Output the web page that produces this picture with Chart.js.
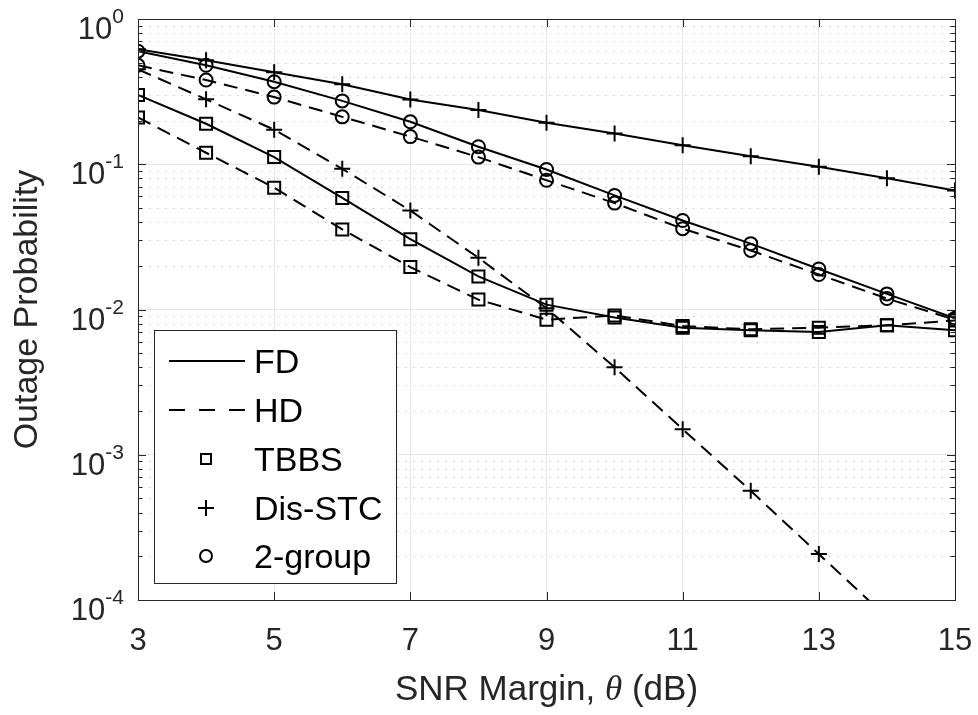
<!DOCTYPE html>
<html>
<head>
<meta charset="utf-8">
<title>Outage Probability vs SNR Margin</title>
<script src="https://cdn.jsdelivr.net/npm/chart.js@4.4.1/dist/chart.umd.min.js"></script>
<style>
  html, body { margin: 0; padding: 0; background: #fff; }
  #wrap { width: 978px; height: 715px; }
</style>
</head>
<body>
<div id="wrap"><canvas id="chart" width="978" height="715"></canvas></div>
<script>
// ---------------------------------------------------------------------------
// Data
// ---------------------------------------------------------------------------

const snr = [3, 4, 5, 6, 7, 8, 9, 10, 11, 12, 13, 14, 15];

const fdTbbs   = [0.30, 0.19, 0.112, 0.0586, 0.0305, 0.0169, 0.0108, 0.0088, 0.0075, 0.0072, 0.0070, 0.0078, 0.0072];
const hdTbbs   = [0.21, 0.12, 0.069, 0.0356, 0.0196, 0.0117, 0.0085, 0.0091, 0.0077, 0.0073, 0.0075, 0.0078, 0.0084];
const fdDisStc = [0.62, 0.52, 0.43, 0.356, 0.279, 0.236, 0.193, 0.163, 0.135, 0.1135, 0.096, 0.080, 0.066];
const hdDisStc = [0.45, 0.28, 0.173, 0.093, 0.048, 0.0227, 0.0102, 0.0040, 0.0015, 0.000565, 0.000207, 0.000076, 0.000028];
const fd2Group = [0.60, 0.48, 0.37, 0.273, 0.196, 0.132, 0.092, 0.061, 0.041, 0.0284, 0.019, 0.0128, 0.0087];
const hd2Group = [0.48, 0.38, 0.29, 0.212, 0.155, 0.112, 0.0776, 0.054, 0.036, 0.0255, 0.0174, 0.0119, 0.0085];

const xTicks = [3, 5, 7, 9, 11, 13, 15];
const yExponents = [0, -1, -2, -3, -4];

const legendNames = ['FD', 'HD', 'TBBS', 'Dis-STC', '2-group'];

const xTitle = ['SNR Margin, ', '\u03B8', ' (dB)'];
const yTitle = 'Outage Probability';

// ---------------------------------------------------------------------------
// Styling helpers
// ---------------------------------------------------------------------------

const SANS = '"Liberation Sans", Arial, Helvetica, sans-serif';
const SERIF = '"Liberation Serif", "Times New Roman", serif';
const AXIS = '#262626';
const DASH = [14, 8];

function pairs(ys) {
  return snr.map((x, i) => ({ x: x, y: ys[i] }));
}

function series(label, ys, dashed, style, radius) {
  return {
    label: label,
    data: pairs(ys),
    borderColor: '#000',
    borderWidth: 2,
    borderDash: dashed ? DASH : [],
    pointStyle: style,
    pointRadius: radius,
    pointBorderWidth: 2,
    pointBorderColor: '#000',
    pointBackgroundColor: 'rgba(0,0,0,0)',
    fill: false,
    tension: 0
  };
}

// ---------------------------------------------------------------------------
// Plugin: minor grid, box, tick marks, labels, legend (MATLAB look)
// ---------------------------------------------------------------------------

const matlabAxes = {
  id: 'matlabAxes',

  beforeDatasetsDraw(chart) {
    const { ctx, chartArea: a, scales: { y } } = chart;
    ctx.save();
    ctx.strokeStyle = '#c6c6c6';
    ctx.lineWidth = 1;
    ctx.setLineDash([1.5, 6.5]);
    for (let k = -4; k < 0; k++) {
      for (let m = 2; m <= 9; m++) {
        const py = Math.round(y.getPixelForValue(m * Math.pow(10, k))) + 0.5;
        ctx.beginPath();
        ctx.moveTo(a.left + 3, py);
        ctx.lineTo(a.right, py);
        ctx.stroke();
      }
    }
    ctx.restore();
  },

  afterDraw(chart) {
    const { ctx, chartArea: a, scales: { x, y } } = chart;
    ctx.save();

    // box
    ctx.strokeStyle = AXIS;
    ctx.lineWidth = 1;
    ctx.setLineDash([]);
    ctx.strokeRect(Math.round(a.left) + 0.5, Math.round(a.top) + 0.5,
                   Math.round(a.right - a.left), Math.round(a.bottom - a.top));

    // x tick marks (top and bottom, pointing inward)
    ctx.beginPath();
    xTicks.forEach(v => {
      const px = Math.round(x.getPixelForValue(v)) + 0.5;
      ctx.moveTo(px, a.bottom); ctx.lineTo(px, a.bottom - 8);
      ctx.moveTo(px, a.top);    ctx.lineTo(px, a.top + 8);
    });
    // y tick marks, major and minor
    for (let k = -4; k <= 0; k++) {
      for (let m = 1; m <= 9; m++) {
        if (k === 0 && m > 1) break;
        const py = Math.round(y.getPixelForValue(m * Math.pow(10, k))) + 0.5;
        const len = m === 1 ? 8 : 4.5;
        ctx.moveTo(a.left, py);  ctx.lineTo(a.left + len, py);
        ctx.moveTo(a.right, py); ctx.lineTo(a.right - len, py);
      }
    }
    ctx.stroke();

    // x tick labels
    ctx.fillStyle = AXIS;
    ctx.font = '31px ' + SANS;
    ctx.textAlign = 'center';
    ctx.textBaseline = 'alphabetic';
    xTicks.forEach(v => ctx.fillText(String(v), x.getPixelForValue(v), 650));

    // y tick labels: 10 with a raised exponent
    yExponents.forEach(e => {
      const py = y.getPixelForValue(Math.pow(10, e));
      const exp = String(e);
      ctx.font = '21px ' + SANS;
      const we = ctx.measureText(exp).width;
      ctx.font = '31px ' + SANS;
      const wb = ctx.measureText('10').width;
      const right = a.left - 14;
      ctx.textAlign = 'left';
      ctx.fillText('10', right - we - wb, py + 20);
      ctx.font = '21px ' + SANS;
      ctx.fillText(exp, right - we, py + 4);
    });

    // x title with italic theta
    const fonts = ['35px ' + SANS, 'italic 35px ' + SERIF, '35px ' + SANS];
    let total = 0;
    const widths = xTitle.map((t, i) => { ctx.font = fonts[i]; const w = ctx.measureText(t).width; total += w; return w; });
    let tx = (a.left + a.right) / 2 - total / 2;
    ctx.textAlign = 'left';
    xTitle.forEach((t, i) => { ctx.font = fonts[i]; ctx.fillText(t, tx, 700); tx += widths[i]; });

    // y title
    ctx.save();
    ctx.translate(28, (a.top + a.bottom) / 2);
    ctx.rotate(-Math.PI / 2);
    ctx.font = '34px ' + SANS;
    ctx.textAlign = 'center';
    ctx.textBaseline = 'middle';
    ctx.fillText(yTitle, 0, 0);
    ctx.restore();

    // legend
    const lg = { left: 154, top: 330, right: 396, bottom: 583 };
    ctx.fillStyle = '#fff';
    ctx.fillRect(lg.left, lg.top, lg.right - lg.left, lg.bottom - lg.top);
    ctx.strokeStyle = AXIS;
    ctx.lineWidth = 1;
    ctx.strokeRect(lg.left + 0.5, lg.top + 0.5, lg.right - lg.left, lg.bottom - lg.top);

    const rowY = [361, 410, 459, 508, 556];
    const sx0 = 169, sx1 = 245, mx = 206, textX = 254;
    ctx.strokeStyle = '#000';
    ctx.lineWidth = 2;
    legendNames.forEach((name, i) => {
      const cy = rowY[i];
      ctx.setLineDash(i === 1 ? [16, 14] : []);
      ctx.beginPath();
      if (i === 0 || i === 1) {
        ctx.moveTo(sx0, cy); ctx.lineTo(sx1, cy);
      } else if (i === 2) {
        ctx.rect(mx - 5, cy - 5, 10, 10);
      } else if (i === 3) {
        ctx.moveTo(mx - 8, cy); ctx.lineTo(mx + 8, cy);
        ctx.moveTo(mx, cy - 8); ctx.lineTo(mx, cy + 8);
      } else {
        ctx.arc(mx, cy, 6, 0, Math.PI * 2);
      }
      ctx.stroke();
      ctx.setLineDash([]);
      ctx.fillStyle = '#000';
      ctx.font = '34px ' + SANS;
      ctx.textAlign = 'left';
      ctx.fillText(name, textX, cy + 12);
    });

    ctx.restore();
  }
};

// ---------------------------------------------------------------------------
// Chart
// ---------------------------------------------------------------------------

const ctx = document.getElementById('chart').getContext('2d');

const chart = new Chart(ctx, {
  type: 'line',
  data: {
    datasets: [
      series('FD TBBS', fdTbbs, false, 'rect', 8.5),
      series('HD TBBS', hdTbbs, true, 'rect', 8.5),
      series('FD Dis-STC', fdDisStc, false, 'cross', 8),
      series('HD Dis-STC', hdDisStc, true, 'cross', 8),
      series('FD 2-group', fd2Group, false, 'circle', 6.5),
      series('HD 2-group', hd2Group, true, 'circle', 6.5)
    ]
  },
  options: {
    responsive: false,
    animation: false,
    devicePixelRatio: 1,
    layout: { padding: { left: 138, right: 23, top: 19, bottom: 115 } },
    plugins: {
      legend: { display: false },
      tooltip: { enabled: false }
    },
    scales: {
      x: {
        type: 'linear',
        min: 3,
        max: 15,
        afterBuildTicks: (scale) => { scale.ticks = xTicks.map(v => ({ value: v })); },
        afterFit: (scale) => { scale.height = 0; },
        ticks: { display: false },
        border: { display: false },
        grid: { color: '#e6e6e6', lineWidth: 1, drawTicks: false }
      },
      y: {
        type: 'logarithmic',
        min: 1e-4,
        max: 1,
        afterBuildTicks: (scale) => { scale.ticks = yExponents.map(e => ({ value: Math.pow(10, e) })); },
        afterFit: (scale) => { scale.width = 0; },
        ticks: { display: false },
        border: { display: false },
        grid: { color: '#e6e6e6', lineWidth: 1, drawTicks: false }
      }
    }
  },
  plugins: [matlabAxes]
});
</script>
</body>
</html>
